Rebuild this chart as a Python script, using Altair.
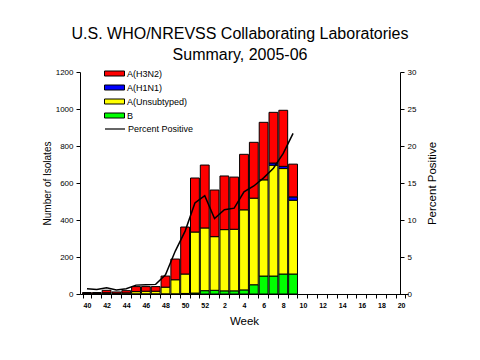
import altair as alt
import pandas as pd

# Categories (weeks of the season)
weeks = [str(w) for w in range(40, 53)] + [str(w) for w in range(1, 21)]
bar_weeks = [str(w) for w in range(40, 53)] + [str(w) for w in range(1, 10)]

# Series values (number of isolates)
b_vals = [1, 1, 2, 1, 1, 1, 1, 1, 1, 1, 3, 5, 18, 20, 17, 17, 22, 50, 97, 97, 108, 108]
unsub_vals = [2, 2, 5, 3, 5, 12, 14, 14, 36, 76, 105, 330, 339, 290, 331, 333, 433, 468, 520, 599, 570, 399]
h1n1_vals = [0, 0, 0, 0, 0, 0, 0, 0, 0, 0, 0, 0, 0, 0, 0, 0, 0, 0, 0, 12, 12, 18]
h3n2_vals = [5, 5, 13, 7, 12, 27, 25, 25, 60, 112, 254, 292, 340, 252, 290, 282, 300, 302, 311, 274, 303, 177]
pct_vals = [0.7, 0.6, 0.85, 0.55, 0.7, 1.2, 1.25, 1.3, 2.6, 5.8, 8.5, 12.3, 13.3, 10.2, 11.4, 11.6, 13.8, 14.6, 15.7, 17.0, 19.0, 21.7]

series_names = ["A(H3N2)", "A(H1N1)", "A(Unsubtyped)", "B"]
series_colors = ["#FF0000", "#0000FF", "#FFFF00", "#00FF00"]
stack_rank = {"B": 0, "A(Unsubtyped)": 1, "A(H1N1)": 2, "A(H3N2)": 3}

rows = []
for name, vals in [("B", b_vals), ("A(Unsubtyped)", unsub_vals), ("A(H1N1)", h1n1_vals), ("A(H3N2)", h3n2_vals)]:
    for wk, v in zip(bar_weeks, vals):
        if v > 0:
            rows.append({"week": wk, "type": name, "count": v, "rank": stack_rank[name]})
bars_df = pd.DataFrame(rows)
line_df = pd.DataFrame({"week": bar_weeks, "pct": pct_vals, "series": "Percent Positive"})

FONT = "Liberation Sans"

x_enc = alt.X(
    "week:N",
    scale=alt.Scale(domain=weeks, paddingInner=0.1, paddingOuter=0.26, range=[0, 328]),
    axis=alt.Axis(
        title="Week", titleFontSize=11.5, titleFontWeight="normal", titlePadding=7,
        labelExpr="toNumber(datum.value) % 2 == 0 ? datum.value : ''",
        labelAngle=0, labelFontSize=7, labelFontWeight="bold", labelPadding=3,
        tickBand="extent", tickSize=4,
    ),
)

bars = alt.Chart(bars_df).mark_bar(stroke="black", strokeWidth=1).encode(
    x=x_enc,
    y=alt.Y(
        "count:Q", stack="zero",
        scale=alt.Scale(domain=[0, 1200], nice=False),
        axis=alt.Axis(values=[0, 200, 400, 600, 800, 1000, 1200], format="d", title="Number of Isolates",
                      titleFontSize=10, titleFontWeight="normal", titlePadding=3,
                      labelFontSize=8, tickSize=4, labelPadding=3),
    ),
    fill=alt.Fill(
        "type:N",
        scale=alt.Scale(domain=series_names, range=series_colors),
        legend=alt.Legend(
            title=None, orient="none", legendX=29, legendY=-4,
            symbolType="M-2,-0.5H2V0.5H-2Z", symbolSize=100,
            symbolStrokeColor="black", symbolStrokeWidth=1, symbolOpacity=1,
            labelFontSize=9, labelOffset=7, rowPadding=3, padding=0,
        ),
    ),
    order=alt.Order("rank:Q", sort="ascending"),
)

line = alt.Chart(line_df).mark_line(strokeWidth=1.5).encode(
    x=alt.X("week:N"),
    y=alt.Y(
        "pct:Q",
        scale=alt.Scale(domain=[0, 30], nice=False),
        axis=alt.Axis(orient="right", values=[0, 5, 10, 15, 20, 25, 30], title="Percent Positive",
                      titleAngle=270, titleFontSize=11.5, titleFontWeight="normal", titlePadding=22,
                      labelFontSize=8, tickSize=4, labelPadding=3),
    ),
    stroke=alt.Stroke(
        "series:N",
        scale=alt.Scale(domain=["Percent Positive"], range=["black"]),
        legend=alt.Legend(
            title=None, orient="none", legendX=29, legendY=51,
            symbolType="M-2,0H2", symbolSize=100, symbolStrokeWidth=1.2,
            labelFontSize=9, labelOffset=7, padding=0,
        ),
    ),
)

chart = alt.layer(bars, line).resolve_scale(y="independent").properties(
    width=320,
    height=222,
    padding={"left": 72, "top": 64, "right": 72, "bottom": 58},
    autosize=alt.AutoSizeParams(type="none"),
    title=alt.TitleParams(
        ["U.S. WHO/NREVSS Collaborating Laboratories", "Summary, 2005-06"],
        fontSize=16, font=FONT, fontWeight="normal", anchor="middle",
        baseline="bottom", offset=-11, lineHeight=21, color="black",
    ),
).configure(font=FONT).configure_view(stroke=None).configure_axis(
    grid=False, domainColor="black", tickColor="black", labelColor="black",
    titleColor="black", labelFont=FONT, titleFont=FONT, domainWidth=1,
).configure_legend(labelFont=FONT, labelColor="black")

chart.save("out.html", embed_options={"renderer": "svg", "actions": False})
